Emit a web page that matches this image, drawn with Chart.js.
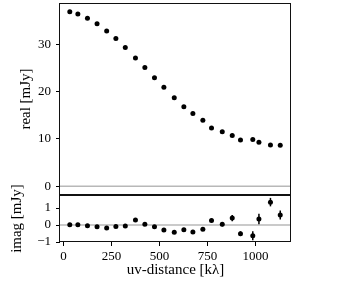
<!DOCTYPE html>
<html>
<head>
<meta charset="utf-8">
<script src="https://cdn.jsdelivr.net/npm/chart.js@4.4.0/dist/chart.umd.min.js"></script>
<style>
  body { margin: 0; background: #fff; }
  #wrap { position: relative; width: 350px; height: 300px; }
  #top { position: absolute; left: 0; top: 0; }
  #bot { position: absolute; left: 0; top: 175px; }
</style>
</head>
<body>
<div id="wrap">
  <canvas id="top" width="350" height="196"></canvas>
  <canvas id="bot" width="350" height="125"></canvas>
</div>
<script>
const uvDist = [33, 75, 125, 175, 225, 273, 322, 375, 424, 474, 523, 577, 627, 674, 726, 771, 827, 879, 922, 986, 1018, 1078, 1129];
const realVals = [36.85, 36.4, 35.5, 34.3, 32.8, 31.2, 29.3, 27.1, 25.1, 22.9, 20.9, 18.7, 16.8, 15.35, 13.95, 12.3, 11.5, 10.7, 9.75, 9.85, 9.3, 8.7, 8.65];
const imagVals = [0.02, 0.02, -0.04, -0.1, -0.18, -0.08, -0.06, 0.29, 0.04, -0.1, -0.29, -0.43, -0.28, -0.41, -0.25, 0.27, 0.04, 0.41, -0.51, -0.63, 0.35, 1.35, 0.59];
const imagErr = [0.05, 0.05, 0.05, 0.05, 0.06, 0.06, 0.06, 0.07, 0.07, 0.08, 0.08, 0.09, 0.09, 0.1, 0.1, 0.11, 0.12, 0.18, 0.14, 0.27, 0.31, 0.25, 0.27];

const xTicks = [0, 250, 500, 750, 1000];
const realTicks = [0, 10, 20, 30];
const imagTicks = [-1, 0, 1];

const FONT = { family: '"Liberation Serif", "DejaVu Serif", serif', size: 13 };
const TITLE_FONT = { family: '"Liberation Serif", "DejaVu Serif", serif', size: 15 };
Chart.defaults.color = '#000';

function fmt(v) {
  return v < 0 ? '\u2212' + Math.abs(v) : String(v);
}

// zero line, error bars and the box round each panel
function makeDeco(errs) {
  return {
    id: 'deco',
    beforeDatasetsDraw(chart) {
      const { ctx, chartArea: a, scales } = chart;
      const y0 = scales.y.getPixelForValue(0);
      ctx.save();
      ctx.strokeStyle = '#b8b8b8';
      ctx.lineWidth = 1.6;
      ctx.beginPath();
      ctx.moveTo(a.left, y0);
      ctx.lineTo(a.right, y0);
      ctx.stroke();
      ctx.restore();
    },
    afterDatasetsDraw(chart) {
      if (!errs) return;
      const { ctx, scales } = chart;
      ctx.save();
      ctx.strokeStyle = '#000';
      ctx.lineWidth = 1.5;
      chart.data.datasets[0].data.forEach((p, i) => {
        const x = scales.x.getPixelForValue(p.x);
        ctx.beginPath();
        ctx.moveTo(x, scales.y.getPixelForValue(p.y - errs[i]));
        ctx.lineTo(x, scales.y.getPixelForValue(p.y + errs[i]));
        ctx.stroke();
      });
      ctx.restore();
    },
    afterDraw(chart) {
      const { ctx, chartArea: a } = chart;
      ctx.save();
      ctx.strokeStyle = '#111';
      ctx.lineWidth = 1;
      ctx.strokeRect(a.left - 0.5, a.top + 0.5, a.right - a.left, a.bottom - a.top - 1);
      ctx.restore();
    }
  };
}

function tickGrid() {
  return { drawOnChartArea: false, drawTicks: true, tickLength: 4, tickColor: '#000', tickWidth: 1 };
}

function fitY(s) {
  s.width = 60;
  s.paddingTop = 0;
  s.paddingBottom = 0;
}

function fitX(s) {
  s.height = 58;
  s.paddingLeft = 0;
  s.paddingRight = 0;
}

new Chart(document.getElementById('top'), {
  type: 'scatter',
  data: {
    datasets: [{
      data: uvDist.map((x, i) => ({ x: x, y: realVals[i] })),
      backgroundColor: '#000',
      borderWidth: 0,
      pointRadius: 2.5
    }]
  },
  options: {
    responsive: false,
    animation: false,
    layout: { autoPadding: false, padding: { top: 3, right: 59, bottom: 1, left: 0 } },
    plugins: { legend: { display: false }, tooltip: { enabled: false } },
    scales: {
      x: { type: 'linear', display: false, min: -18, max: 1185 },
      y: {
        min: -1.85, max: 38.7,
        afterBuildTicks: s => { s.ticks = realTicks.map(v => ({ value: v })); },
        afterFit: fitY,
        grid: tickGrid(),
        border: { display: false },
        ticks: { font: FONT, padding: 5, callback: fmt },
        title: { display: true, text: 'real [mJy]', font: TITLE_FONT, padding: { top: 17, bottom: 0 } }
      }
    }
  },
  plugins: [makeDeco(null)]
});

new Chart(document.getElementById('bot'), {
  type: 'scatter',
  data: {
    datasets: [{
      data: uvDist.map((x, i) => ({ x: x, y: imagVals[i] })),
      backgroundColor: '#000',
      borderWidth: 0,
      pointRadius: 2.5
    }]
  },
  options: {
    responsive: false,
    animation: false,
    layout: { autoPadding: false, padding: { top: 20, right: 59, bottom: 0, left: 0 } },
    plugins: { legend: { display: false }, tooltip: { enabled: false } },
    scales: {
      x: {
        type: 'linear', min: -18, max: 1185,
        afterBuildTicks: s => { s.ticks = xTicks.map(v => ({ value: v })); },
        afterFit: fitX,
        grid: tickGrid(),
        border: { display: false },
        ticks: { font: FONT, padding: 3, maxRotation: 0, callback: fmt },
        title: { display: true, text: 'uv-distance [k\u03bb]', font: TITLE_FONT, padding: { top: 0, bottom: 21 } }
      },
      y: {
        min: -1, max: 1.77,
        afterBuildTicks: s => { s.ticks = imagTicks.map(v => ({ value: v })); },
        afterFit: fitY,
        grid: tickGrid(),
        border: { display: false },
        ticks: { font: FONT, padding: 5, callback: fmt },
        title: { display: true, text: 'imag [mJy]', font: TITLE_FONT, padding: { top: 8, bottom: 0 } }
      }
    }
  },
  plugins: [makeDeco(imagErr)]
});
</script>
</body>
</html>
